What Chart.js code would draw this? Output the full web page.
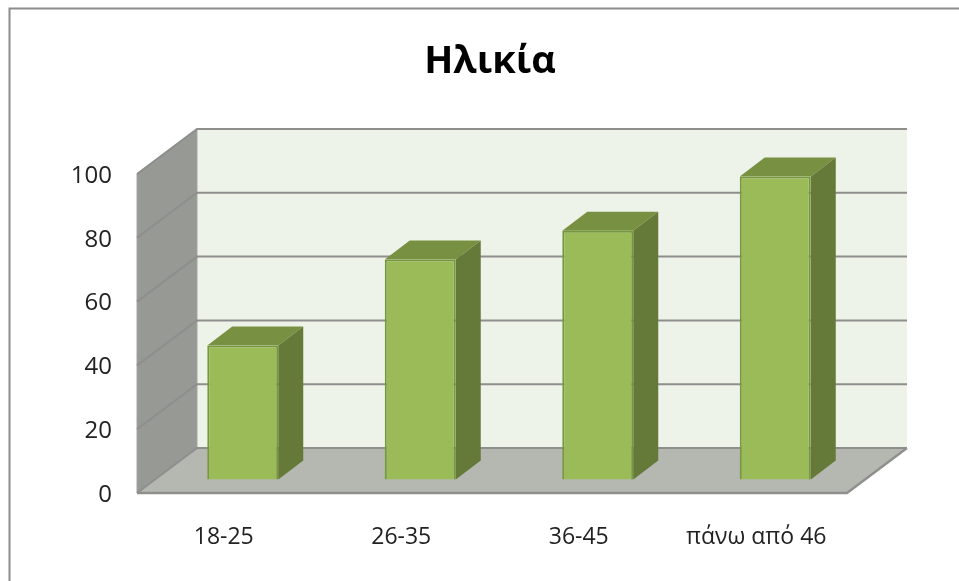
<!DOCTYPE html>
<html><head><meta charset="utf-8">
<style>html,body{margin:0;padding:0;background:#fff}#w{width:959px;height:581px;position:relative}</style>
<script src="https://cdn.jsdelivr.net/npm/chart.js@4"></script></head>
<body><div id="w"><canvas id="c" width="959" height="581"></canvas></div>
<script>
const categories = ["18-25", "26-35", "36-45", "πάνω από 46"];
const seriesValues = [42, 69, 78, 95];
const titleText = "Ηλικία";
const yTicks = [0, 20, 40, 60, 80, 100];

const DEPTH = {wx: 60, wy: 45, bx: 25, by: 19, ox: 17, oy: 13.5};
function poly(ctx, pts, fill, stroke, lw) {
  ctx.beginPath();
  pts.forEach((p, i) => i ? ctx.lineTo(p[0], p[1]) : ctx.moveTo(p[0], p[1]));
  ctx.closePath();
  if (fill) { ctx.fillStyle = fill; ctx.fill(); }
  if (stroke) { ctx.strokeStyle = stroke; ctx.lineWidth = lw || 1; ctx.stroke(); }
}
const frame = {
  id: 'frame',
  beforeDraw(chart) {
    const c = chart.ctx;
    c.save();
    c.strokeStyle = '#8c8c8c'; c.lineWidth = 2;
    c.beginPath(); c.moveTo(9.5, 581); c.lineTo(9.5, 8.5); c.lineTo(959, 8.5); c.stroke();
    c.restore();
  },
  beforeDatasetsDraw(chart) {
    const c = chart.ctx, a = chart.chartArea, y = chart.scales.y, d = DEPTH;
    const l = a.left, r = a.right, t = a.top, b = a.bottom;
    c.save();
    poly(c, [[l + d.wx, t - d.wy], [r + d.wx, t - d.wy], [r + d.wx, b - d.wy], [l + d.wx, b - d.wy]], '#eef3ea');
    poly(c, [[l, t], [l + d.wx, t - d.wy], [l + d.wx, b - d.wy], [l, b]], '#979994', '#a4a5a1', 1);
    poly(c, [[l, b], [r, b], [r + d.wx, b - d.wy], [l + d.wx, b - d.wy]], '#b5b7b1');
    yTicks.forEach(v => {
      const p = y.getPixelForValue(v);
      c.lineWidth = 2; c.strokeStyle = '#8e8f8c';
      c.beginPath(); c.moveTo(l, p); c.lineTo(l + d.wx, p - d.wy); c.lineTo(r + d.wx, p - d.wy); c.stroke();
    });
    c.lineWidth = 2.4; c.strokeStyle = '#8f908d';
    c.beginPath(); c.moveTo(l, b); c.lineTo(r, b); c.lineTo(r + d.wx, b - d.wy); c.stroke();
    c.restore();
    c.save();
    c.translate(d.ox, -d.oy);
    chart.getDatasetMeta(0).data.forEach(bar => {
      const x1 = bar.x + bar.width / 2, x0 = bar.x - bar.width / 2;
      poly(c, [[x0, bar.y], [x0 + d.bx, bar.y - d.by], [x1 + d.bx, bar.y - d.by], [x1, bar.y]], '#789041');
      poly(c, [[x1, bar.y], [x1 + d.bx, bar.y - d.by], [x1 + d.bx, bar.base - d.by], [x1, bar.base]], '#657a38');
    });
  },
  afterDatasetsDraw(chart) { chart.ctx.restore(); }
};
new Chart(document.getElementById('c'), {
  type: 'bar',
  data: {
    labels: categories,
    datasets: [{
      data: seriesValues, backgroundColor: '#9bbb59', borderColor: '#76983c', borderWidth: 2,
      barPercentage: 0.4, categoryPercentage: 1, clip: false
    }]
  },
  plugins: [frame],
  options: {
    responsive: false, animation: false,
    layout: {padding: {left: 21, right: 0, top: 0, bottom: 0}},
    plugins: {
      legend: {display: false}, tooltip: {enabled: false},
      title: {
        display: true, text: titleText, color: '#000',
        font: {family: '"Open Sans"', size: 38, weight: 'bold', lineHeight: 1.2},
        padding: {top: 39, bottom: 89.4}
      }
    },
    scales: {
      x: {
        grid: {display: false, drawTicks: false}, border: {display: false},
        ticks: {color: '#222', font: {family: '"Open Sans"', size: 23}, padding: 30.5, labelOffset: -2, maxRotation: 0, autoSkip: false},
        afterFit(s) { s.height = 88; }
      },
      y: {
        min: 0, max: 100,
        grid: {display: false, drawTicks: false}, border: {display: false},
        ticks: {stepSize: 20, color: '#222', font: {family: '"Open Sans"', size: 24}, padding: 25, labelOffset: 2},
        afterFit(s) { s.width = 116; }
      },
      spacer: {
        type: 'linear', position: 'right', min: 0, max: 1,
        grid: {display: false, drawTicks: false}, border: {display: false},
        ticks: {display: false},
        afterFit(s) { s.width = 112; }
      }
    }
  }
});
</script></body></html>
